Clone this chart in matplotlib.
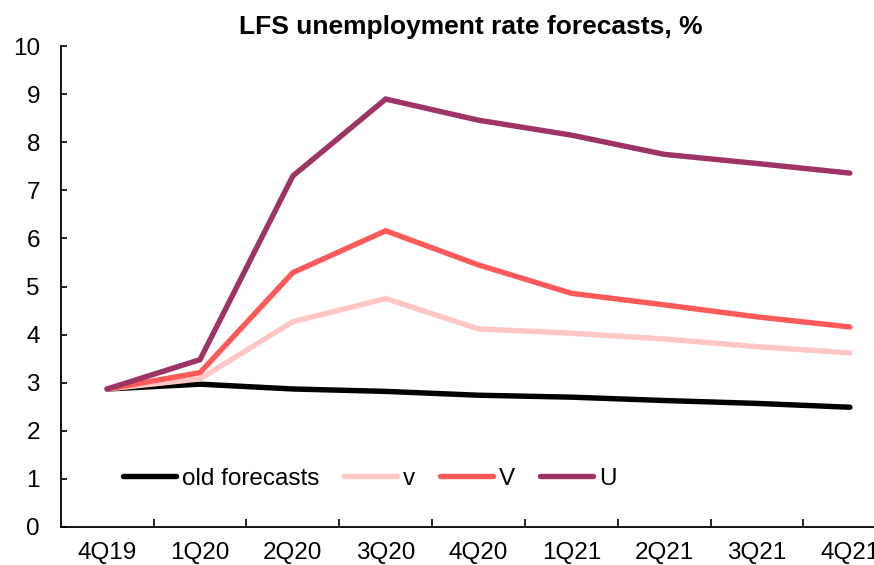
import matplotlib.pyplot as plt
import numpy as np

plt.rcParams['font.family'] = ['Liberation Sans', 'DejaVu Sans']

quarters = ['4Q19', '1Q20', '2Q20', '3Q20', '4Q20', '1Q21', '2Q21', '3Q21', '4Q21']
old_forecasts = [2.87, 2.97, 2.87, 2.82, 2.74, 2.70, 2.63, 2.57, 2.49]
v_small = [2.87, 3.08, 4.27, 4.75, 4.12, 4.03, 3.91, 3.75, 3.62]
V_big = [2.87, 3.21, 5.29, 6.16, 5.45, 4.86, 4.62, 4.37, 4.16]
U = [2.87, 3.48, 7.30, 8.90, 8.46, 8.15, 7.75, 7.56, 7.36]

names = ['old forecasts', 'v', 'V', 'U']
colors = ['#000000', '#FFC6C6', '#FF5A5A', '#9E3466']

fig = plt.figure(figsize=(8.74, 5.65), dpi=100)
ax = fig.add_axes([0.0695, 0.0673, 0.956, 0.851])

x = np.arange(len(quarters))
for series, name, col in zip([old_forecasts, v_small, V_big, U], names, colors):
    ax.plot(x, series, color=col, lw=3.9, label=name, solid_capstyle='round',
            solid_joinstyle='miter')

ax.set_xlim(-0.5, 8.5)
ax.set_ylim(0, 10)
ax.set_yticks(range(0, 11))
ax.set_xticks(x)
ax.set_xticklabels(quarters)
ax.set_xticks(np.arange(0.5, 8.5, 1), minor=True)

ax.tick_params(axis='y', direction='in', length=4.5, width=1.2, labelsize=17.5, pad=15)
ax.tick_params(axis='x', which='major', length=0, labelsize=17.5, pad=11)
ax.tick_params(axis='x', which='minor', direction='in', length=6, width=1.2)

for s in ['top', 'right']:
    ax.spines[s].set_visible(False)
for s in ['left', 'bottom']:
    ax.spines[s].set_linewidth(1.3)

ax.set_title('LFS unemployment rate forecasts, %', fontsize=19, fontweight='bold',
             x=0.491, pad=9)

ax.legend(loc='center left', bbox_to_anchor=(0.074, 0.1), ncol=4, frameon=False,
          fontsize=17.5, handlelength=2.2, handletextpad=0.25, columnspacing=1.0,
          borderpad=0, borderaxespad=0)

fig.savefig('out.png', dpi=100)
